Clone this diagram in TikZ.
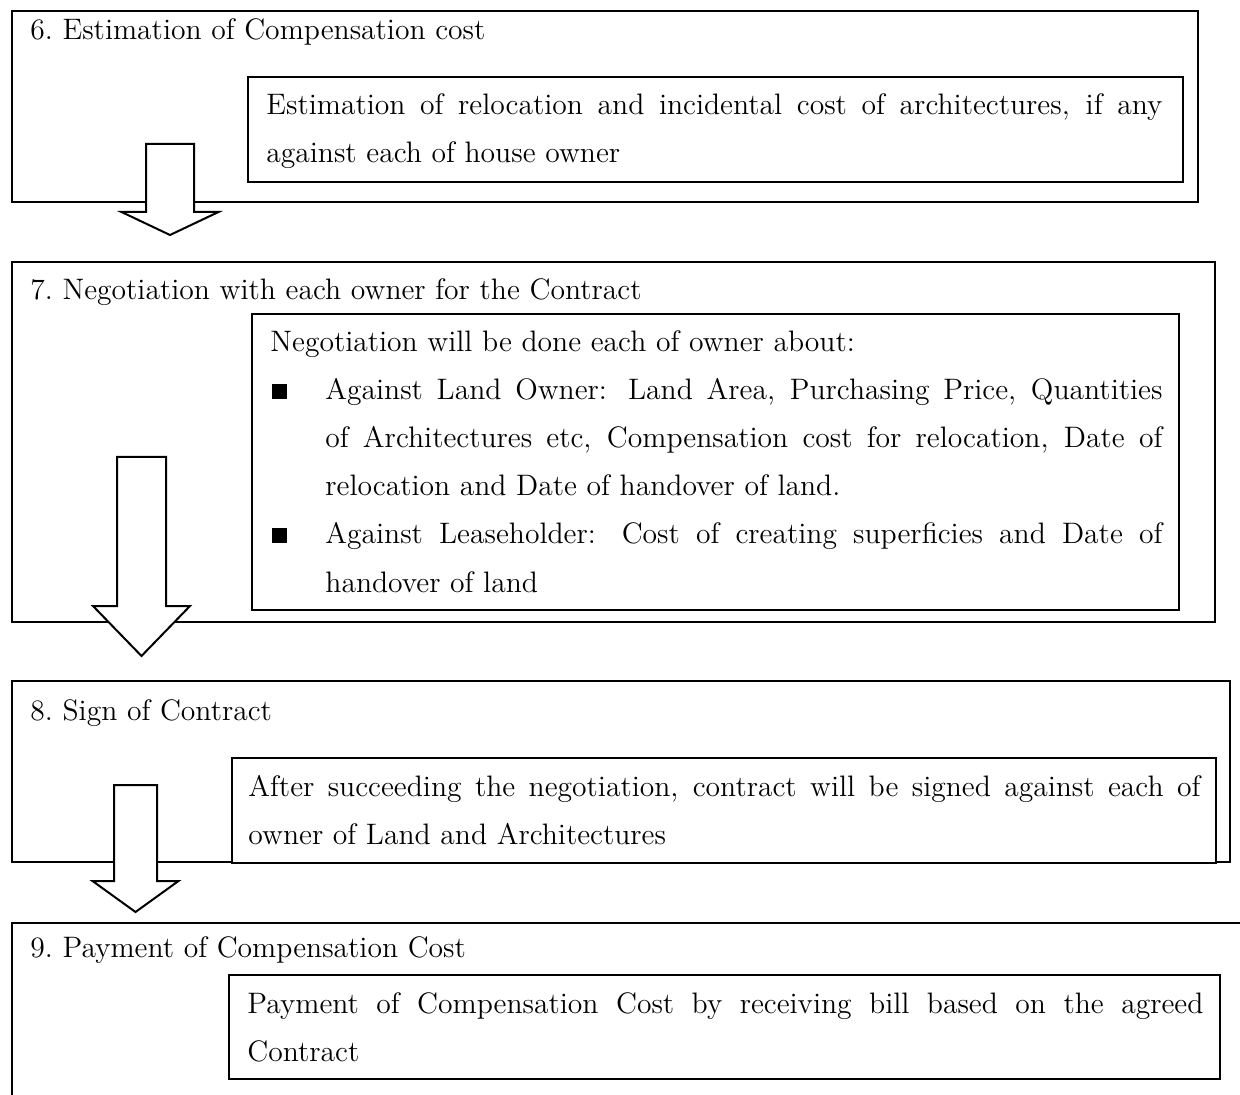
\documentclass[tikz,border=0pt]{standalone}
\usepackage{fontspec}
\usetikzlibrary{fit,calc}

% one line of body text, stretched to a given width (justified)
\newcommand{\jline}[2]{\makebox[#1][s]{#2}}
% block arrow from the top of its shaft to its tip
% #1 top, #2 tip, #3 half shaft width, #4 half head width, #5 head length
\newcommand{\blockarrow}[5]{%
  \draw[flowarrow] ($(#1)+(-#3,0)$) -- ($(#1)+(#3,0)$) -- ($(#2)+(#3,-#5)$)
    -- ($(#2)+(#4,-#5)$) -- (#2) -- ($(#2)+(-#4,-#5)$) -- ($(#2)+(-#3,-#5)$) -- cycle;}

\begin{document}
\begin{tikzpicture}[x=0.5pt,y=-0.5pt,
  stagebox/.style={draw, line width=1pt, inner sep=0pt},
  notebox/.style={draw, fill=white, line width=1pt, inner sep=0pt},
  flowarrow/.style={draw, fill=white, line width=1pt, line join=miter},
  txt/.style={anchor=base west, inner sep=0pt, font=\fontsize{14.8}{24}\selectfont},
  title/.style={txt, font=\fontsize{14.8}{24}\selectfont\frenchspacing}]
\clip (0,0) rectangle (1240,1095);

% stage frames
\node[stagebox, fit={(12,11) (1198,202)}] (s6) {};
\node[stagebox, fit={(12,262) (1215,622)}] (s7) {};
\node[stagebox, fit={(12,681) (1230,862)}] (s8) {};
\node[stagebox, fit={(12,923) (1300,1150)}] (s9) {};

% description frames
\node[notebox, fit={(248,77) (1183,182)}] (n6) {};
\node[notebox, fit={(252,314) (1179,610)}] (n7) {};
\node[notebox, fit={(232,758) (1216,863)}] (n8) {};
\node[notebox, fit={(229,975) (1220,1079)}] (n9) {};

% stage titles
\node[title] (t6) at (30,40) {6. Estimation of Compensation cost};
\node[title] (t7) at (30,300) {7. Negotiation with each owner for the Contract};
\node[title] (t8) at (30,720) {8. Sign of Contract};
\node[title] (t9) at (30,957) {9. Payment of Compensation Cost};

% stage 6 text
\node[txt] (d6a) at (266,115) {\jline{448pt}{Estimation of relocation and incidental cost of architectures, if any}};
\node[txt] (d6b) at (266,163) {against each of house owner};

% stage 7 text
\node[txt] (d7a) at (270,352) {Negotiation will be done each of owner about:};
\node[txt] (k1) at (272,400) {\rule[0.5pt]{7.5pt}{7.5pt}};
\node[txt] (d7b) at (325,400) {\jline{418.5pt}{Against Land Owner: Land Area, Purchasing Price, Quantities}};
\node[txt] (d7c) at (325,448) {\jline{418.5pt}{of Architectures etc, Compensation cost for relocation, Date of}};
\node[txt] (d7d) at (325,496) {relocation and Date of handover of land.};
\node[txt] (k2) at (272,544) {\rule[0.5pt]{7.5pt}{7.5pt}};
\node[txt] (d7e) at (325,544) {\jline{418.5pt}{Against Leaseholder: Cost of creating superficies and Date of}};
\node[txt] (d7f) at (325,592) {handover of land};

% stage 8 text
\node[txt] (d8a) at (248,796) {\jline{476pt}{After succeeding the negotiation, contract will be signed against each of}};
\node[txt] (d8b) at (248,844) {owner of Land and Architectures};

% stage 9 text
\node[txt] (d9a) at (247,1013) {\jline{478pt}{Payment of Compensation Cost by receiving bill based on the agreed}};
\node[txt] (d9b) at (247,1061) {Contract};

% arrows between stages
\coordinate (a1top) at (170,144);   \coordinate (a1tip) at (170,235);
\coordinate (a2top) at (141.5,457); \coordinate (a2tip) at (141.5,656);
\coordinate (a3top) at (135.5,785); \coordinate (a3tip) at (135.5,912);
\blockarrow{a1top}{a1tip}{24}{48.5}{23}
\blockarrow{a2top}{a2tip}{24.5}{48.5}{50}
\blockarrow{a3top}{a3tip}{21.5}{43}{31}
\end{tikzpicture}
\end{document}
